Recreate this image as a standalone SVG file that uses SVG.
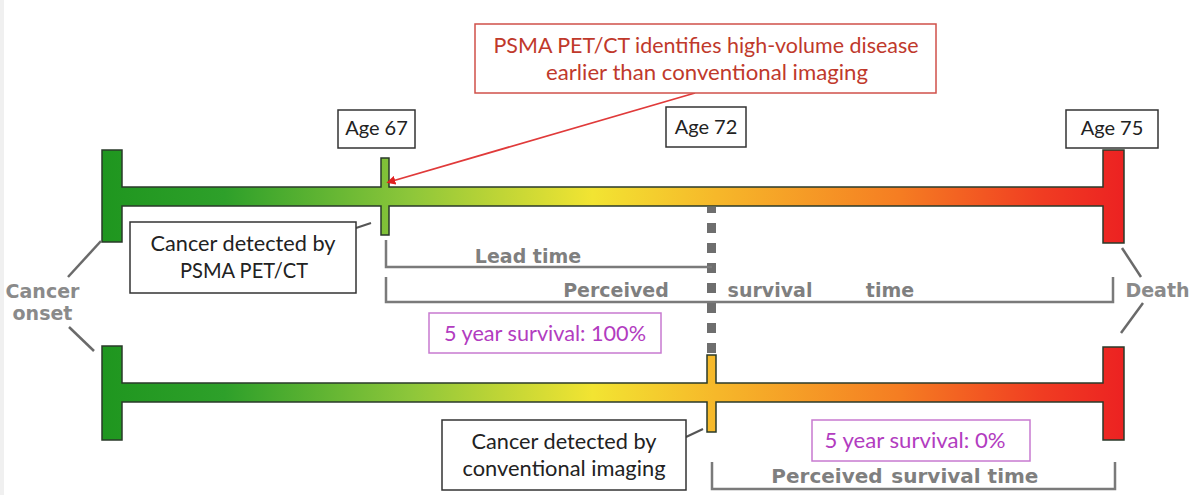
<svg xmlns="http://www.w3.org/2000/svg" width="1200" height="495" viewBox="0 0 1200 495">
<defs>
<linearGradient id="g" gradientUnits="userSpaceOnUse" x1="102" y1="0" x2="1124" y2="0">
<stop offset="0" stop-color="#1f961f"/>
<stop offset="0.12" stop-color="#2ea02a"/>
<stop offset="0.3" stop-color="#8cc63a"/>
<stop offset="0.48" stop-color="#f2e432"/>
<stop offset="0.6" stop-color="#f6b82a"/>
<stop offset="0.78" stop-color="#f57d22"/>
<stop offset="0.92" stop-color="#f03c22"/>
<stop offset="1" stop-color="#ec2222"/>
</linearGradient>
<marker id="ah" viewBox="0 0 10 10" refX="7" refY="5" markerWidth="5" markerHeight="5" orient="auto">
<path d="M0,0 L10,5 L0,10 Z" fill="#e02020"/>
</marker>
<style>
.bar{fill:url(#g);stroke:#2a3a2a;stroke-width:1.5;stroke-linejoin:miter}
.box{fill:#fff;stroke:#333;stroke-width:1.5}
.txt{font-family:Lato,"Open Sans",sans-serif;font-size:21px;fill:#222;text-anchor:middle}
.age{font-family:Lato,"Open Sans",sans-serif;font-size:20px;fill:#222;text-anchor:middle}
.red{fill:#fff;stroke:#d0504a;stroke-width:1.5}
.redt{font-family:Lato,"Open Sans",sans-serif;font-size:21px;fill:#c0392b;text-anchor:middle}
.mag{fill:#fff;stroke:#c77ad0;stroke-width:1.5}
.magt{font-family:Lato,"Open Sans",sans-serif;font-size:21px;fill:#b23cc0;text-anchor:middle}
.gl{fill:none;stroke:#7a7a7a;stroke-width:2.5}
.gt{font-family:"DejaVu Sans",sans-serif;font-weight:bold;font-size:19px;fill:#7f7f7f;text-anchor:middle}
.gb{font-family:"DejaVu Sans",sans-serif;font-weight:bold;font-size:20px;fill:#7f7f7f;text-anchor:middle}
.gtw{font-family:"DejaVu Sans",sans-serif;font-weight:bold;font-size:19px;fill:#8a8a8a;text-anchor:middle}
</style>
</defs>
<rect width="1200" height="495" fill="#fff"/>
<rect x="0" y="0" width="4" height="495" fill="#f0f0f0"/>

<g id="timeline-psma">
<path class="bar" d="M102,150 H122 V187 H381 V158 H389 V187 H1103 V150 H1124 V243 H1103 V206 H389 V235 H381 V206 H122 V242 H102 Z"/>
</g>
<g id="timeline-conventional">
<path class="bar" d="M102,346 H122 V383 H707 V355 H716 V383 H1103 V347 H1124 V440 H1103 V402 H716 V432 H707 V402 H122 V440 H102 Z"/>
</g>

<g id="connectors">
<line x1="695" y1="93" x2="389" y2="182" stroke="#e03a3a" stroke-width="1.8" marker-end="url(#ah)"/>
<line x1="356" y1="228" x2="371" y2="223" stroke="#555" stroke-width="2"/>
<line x1="686" y1="437" x2="703" y2="429" stroke="#555" stroke-width="2"/>
<line x1="68" y1="277" x2="101" y2="241" stroke="#6a6a6a" stroke-width="2.5"/>
<line x1="69" y1="327" x2="94" y2="351" stroke="#6a6a6a" stroke-width="2.5"/>
<line x1="1122" y1="248" x2="1141" y2="277" stroke="#6a6a6a" stroke-width="2.5"/>
<line x1="1143" y1="303" x2="1121" y2="333" stroke="#6a6a6a" stroke-width="2.5"/>
<line x1="711.5" y1="207" x2="711.5" y2="353" stroke="#6e6e6e" stroke-width="9" stroke-dasharray="10,10" stroke-dashoffset="4"/>
</g>

<g id="callout">
<rect class="red" x="475" y="24" width="461" height="69"/>
<text class="redt" x="706" y="53" textLength="425" lengthAdjust="spacingAndGlyphs">PSMA PET/CT identifies high-volume disease</text>
<text class="redt" x="707" y="80" textLength="322" lengthAdjust="spacingAndGlyphs">earlier than conventional imaging</text>
</g>

<g id="age67"><rect class="box" x="338" y="110" width="77" height="38"/><text class="age" x="376.5" y="135">Age 67</text></g>
<g id="age72"><rect class="box" x="666" y="107" width="80" height="40"/><text class="age" x="706" y="134">Age 72</text></g>
<g id="age75"><rect class="box" x="1066" y="110" width="92" height="38"/><text class="age" x="1112" y="135">Age 75</text></g>

<g id="psma-detect">
<rect class="box" x="130" y="222" width="226" height="71"/>
<text class="txt" x="243" y="251" textLength="185" lengthAdjust="spacingAndGlyphs">Cancer detected by</text>
<text class="txt" x="244" y="278" textLength="128" lengthAdjust="spacingAndGlyphs">PSMA PET/CT</text>
</g>

<g id="lead-time">
<path class="gl" d="M386,240 V267 H712"/>
<text class="gt" x="528" y="263">Lead time</text>
</g>

<g id="perceived-top">
<path class="gl" d="M386,277 V302 H1113 V277"/>
<text class="gt" x="616" y="297">Perceived</text>
<text class="gt" x="770" y="297">survival</text>
<text class="gt" x="890" y="297">time</text>
</g>

<g id="cancer-onset">
<text class="gtw" x="42.5" y="298">Cancer</text>
<text class="gtw" x="42.5" y="320">onset</text>
</g>
<g id="death">
<text class="gtw" x="1157.5" y="297">Death</text>
</g>

<g id="surv100">
<rect class="mag" x="429" y="313" width="232" height="40"/>
<text class="magt" x="545" y="341" textLength="202" lengthAdjust="spacingAndGlyphs">5 year survival: 100%</text>
</g>

<g id="conv-detect">
<rect class="box" x="442" y="420" width="244" height="70"/>
<text class="txt" x="564" y="449" textLength="185" lengthAdjust="spacingAndGlyphs">Cancer detected by</text>
<text class="txt" x="564" y="476" textLength="203" lengthAdjust="spacingAndGlyphs">conventional imaging</text>
</g>

<g id="surv0">
<rect class="mag" x="812" y="420" width="218" height="41"/>
<text class="magt" x="915" y="448" textLength="181" lengthAdjust="spacingAndGlyphs">5 year survival: 0%</text>
</g>

<g id="perceived-bottom">
<path class="gl" d="M712,462 V489 H1115 V462"/>
<text class="gb" x="827" y="483">Perceived</text>
<text class="gb" x="936" y="483">survival</text>
<text class="gb" x="1013" y="483">time</text>
</g>
</svg>
